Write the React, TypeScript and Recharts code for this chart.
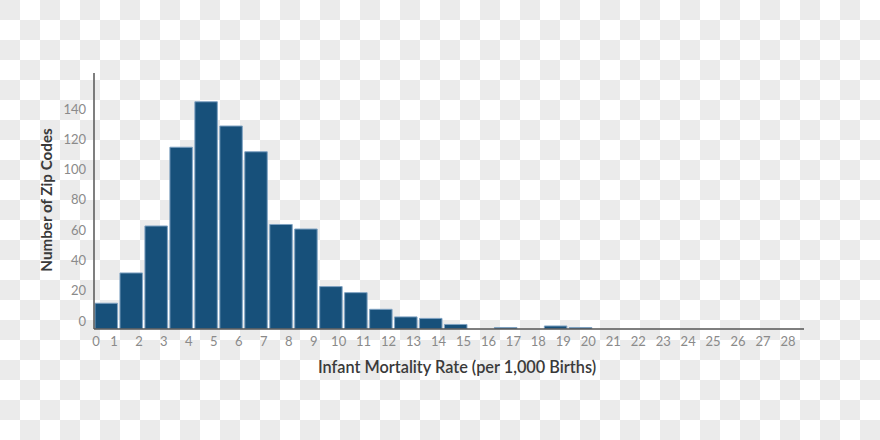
import { ComposedChart, Bar, XAxis, YAxis } from 'recharts';

// histogram bins [k, k+1), counts
const binStarts = [0, 1, 2, 3, 4, 5, 6, 7, 8, 9, 10, 11, 12, 13, 14, 15, 16, 17, 18, 19];
const zipCounts = [17, 37, 68, 120, 150, 134, 117, 69, 66, 28, 24, 13, 8, 7, 3, 0, 1, 0, 2, 1];
const xTicks = [0, 1, 2, 3, 4, 5, 6, 7, 8, 9, 10, 11, 12, 13, 14, 15, 16, 17, 18, 19, 20, 21, 22, 23, 24, 25, 26, 27, 28];
const yTicks = [0, 20, 40, 60, 80, 100, 120, 140];

const data = binStarts.map((b, i) => ({ mid: b + 0.5, count: zipCounts[i] }));

const FONT = 'Lato, "Open Sans", sans-serif';

function XTick(props: any) {
  const { x, y, payload } = props;
  const dx = payload.value === 0 ? 2 : -5;
  return (
    <text x={x + dx} y={y} dy="0.71em" textAnchor="middle" fill="#8a8a8a" fontSize={13} fontFamily={FONT}>
      {payload.value}
    </text>
  );
}

function YTick(props: any) {
  const { x, y, payload } = props;
  return (
    <text x={x} y={y - 8} dy="0.355em" textAnchor="end" fill="#8a8a8a" fontSize={13} fontFamily={FONT}>
      {payload.value}
    </text>
  );
}

export default function App() {
  return (
    <div
      style={{
        position: 'absolute',
        left: 0,
        top: 0,
        width: 880,
        height: 440,
        backgroundColor: '#ffffff',
        backgroundImage: 'repeating-conic-gradient(#ffffff 0% 25%, #ebebeb 0% 50%)',
        backgroundSize: '40px 40px',
      }}
    >
      <ComposedChart
        width={880}
        height={440}
        data={data}
        margin={{ top: 73, right: 76, bottom: 81, left: 34 }}
      >
        <XAxis
          dataKey="mid"
          type="number"
          domain={[0, 28.44]}
          ticks={xTicks}
          interval={0}
          allowDataOverflow
          tickLine={false}
          tick={<XTick />}
          height={30}
          stroke="#555"
          strokeWidth={1.5}
          label={{
            value: 'Infant Mortality Rate (per 1,000 Births)',
            position: 'bottom',
            offset: 2,
            dx: 8,
            style: { fill: '#3a3a3a', fontSize: 16.3, fontWeight: 600, fontFamily: FONT },
          }}
        />
        <YAxis
          type="number"
          domain={[0, 169]}
          ticks={yTicks}
          interval={0}
          allowDataOverflow
          tickLine={false}
          tick={<YTick />}
          width={60}
          stroke="#555"
          strokeWidth={1.5}
          label={{
            value: 'Number of Zip Codes',
            angle: -90,
            position: 'insideLeft',
            offset: 13,
            dy: -1,
            style: { fill: '#3a3a3a', fontSize: 15.2, fontWeight: 700, fontFamily: FONT, textAnchor: 'middle' },
          }}
        />
        <Bar
          dataKey="count"
          barSize={25}
          fill="#17507a"
          stroke="#7fa2c2"
          strokeWidth={1}
          isAnimationActive={false}
        />
      </ComposedChart>
    </div>
  );
}
